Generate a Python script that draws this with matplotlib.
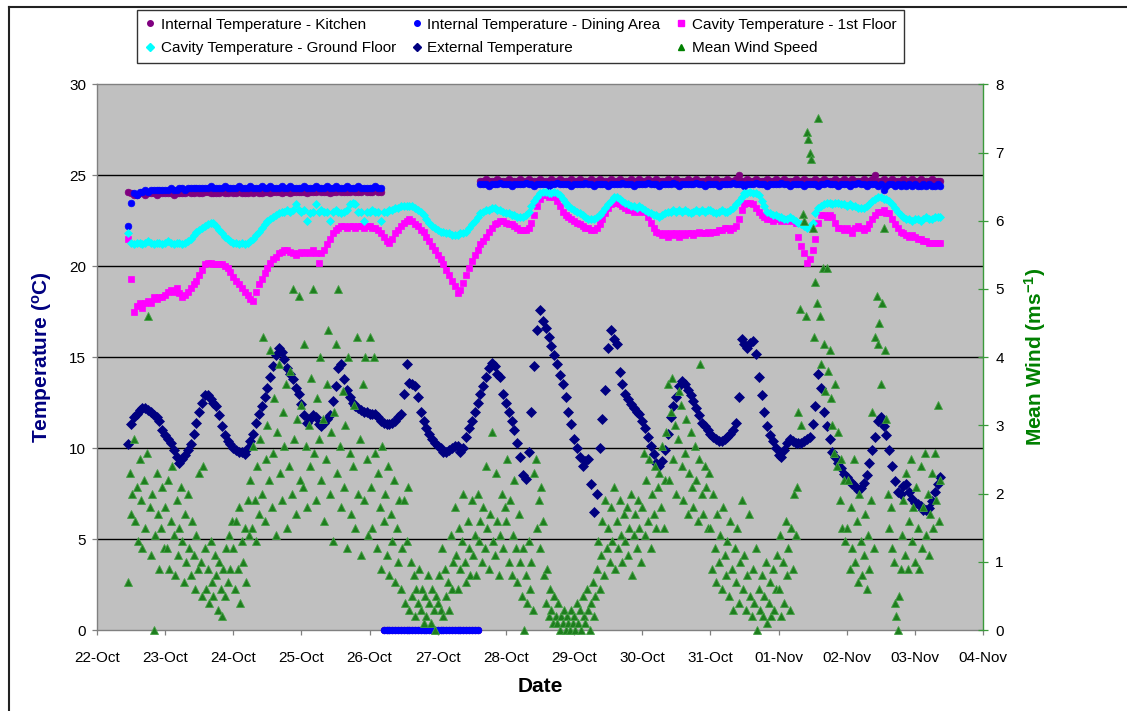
import matplotlib
matplotlib.use("Agg")
import matplotlib.pyplot as plt
import matplotlib.dates as mdates
from matplotlib.lines import Line2D
import pandas as pd

plt.rcParams['font.family'] = ['Liberation Sans', 'DejaVu Sans']
plt.rcParams['mathtext.fontset'] = 'custom'
plt.rcParams['mathtext.rm'] = 'Liberation Sans:bold'
plt.rcParams['mathtext.default'] = 'rm'

# ---------------- data (hourly temperatures, 22-Oct 11:00 -> 03-Nov 09:00) ----------------
START = '2008-10-22 11:00'
X_MIN, X_MAX = '2008-10-22', '2008-11-04'

kitchen = [
    24.1, 24.0, 23.9, 23.9, 24.0, 24.0, 23.9, 24.0, 24.0, 24.0, 23.9, 24.0, 24.0,
    24.0, 24.0, 24.0, 23.9, 24.0, 24.0, 24.0, 24.0, 24.1, 24.0, 24.0, 24.1,
    24.0, 24.0, 24.1, 24.1, 24.0, 24.0, 24.0, 24.0, 24.1, 24.0, 24.0, 24.1,
    24.0, 24.0, 24.1, 24.0, 24.0, 24.0, 24.1, 24.0, 24.1, 24.0, 24.0, 24.1,
    24.1, 24.0, 24.1, 24.1, 24.1, 24.0, 24.1, 24.1, 24.0, 24.1, 24.1, 24.1,
    24.1, 24.1, 24.0, 24.1, 24.1, 24.1, 24.2, 24.1, 24.1, 24.1, 24.0, 24.1,
    24.1, 24.2, 24.1, 24.1, 24.1, 24.1, 24.2, 24.1, 24.1, 24.1, 24.2, 24.1,
    24.1, 24.1, 24.2, 24.1, 24.1, 0, 0, 0, 0, 0, 0, 0,
    0, 0, 0, 0, 0, 0, 0, 0, 0, 0, 0, 0,
    0, 0, 0, 0, 0, 0, 0, 0, 0, 0, 0, 0,
    0, 0, 0, 24.7, 24.7, 24.8, 24.7, 24.7, 24.7, 24.8, 24.7, 24.7,
    24.7, 24.8, 24.7, 24.7, 24.7, 24.8, 24.7, 24.7, 24.8, 24.7, 24.7, 24.7,
    24.8, 24.7, 24.7, 24.7, 24.8, 24.7, 24.7, 24.8, 24.7, 24.7, 24.7, 24.8,
    24.7, 24.7, 24.8, 24.7, 24.7, 24.7, 24.8, 24.7, 24.7, 24.8, 24.7, 24.7,
    24.7, 24.8, 24.7, 24.7, 24.8, 24.7, 24.7, 24.7, 24.8, 24.7, 24.7, 24.8,
    24.7, 24.7, 24.8, 24.7, 24.7, 24.8, 24.7, 24.7, 24.7, 24.8, 24.7, 24.7,
    24.8, 24.7, 24.7, 24.7, 24.8, 24.7, 24.7, 24.8, 24.7, 24.7, 24.7, 24.8,
    24.7, 24.7, 24.8, 24.7, 24.7, 24.7, 24.8, 24.7, 24.7, 24.8, 25.0, 24.7,
    24.7, 24.8, 24.7, 24.7, 24.8, 24.7, 24.7, 24.7, 24.8, 24.7, 24.7, 24.8,
    24.7, 24.7, 24.8, 24.7, 24.7, 24.7, 24.8, 24.7, 24.7, 24.8, 24.7, 24.7,
    24.7, 24.8, 24.7, 24.7, 24.8, 24.7, 24.7, 24.7, 24.8, 24.7, 24.7, 24.8,
    24.7, 24.7, 24.8, 24.7, 24.7, 24.7, 24.8, 24.7, 24.7, 24.8, 25.0, 24.7,
    24.7, 24.8, 24.7, 24.7, 24.8, 24.7, 24.7, 24.7, 24.8, 24.7, 24.7, 24.8,
    24.7, 24.7, 24.8, 24.7, 24.7, 24.7, 24.8, 24.7, 24.7, 24.7,
]

dining = [
    22.2, 23.5, 24.0, 23.9, 24.1, 24.1, 24.2, 24.1, 24.2, 24.2, 24.2, 24.2, 24.2,
    24.2, 24.2, 24.3, 24.2, 24.2, 24.3, 24.3, 24.2, 24.3, 24.3, 24.3, 24.3,
    24.3, 24.3, 24.3, 24.3, 24.4, 24.3, 24.3, 24.3, 24.3, 24.4, 24.3, 24.3,
    24.3, 24.3, 24.4, 24.3, 24.3, 24.3, 24.4, 24.3, 24.3, 24.3, 24.4, 24.3,
    24.3, 24.4, 24.3, 24.3, 24.3, 24.4, 24.3, 24.3, 24.4, 24.3, 24.3, 24.3,
    24.3, 24.4, 24.3, 24.3, 24.3, 24.4, 24.3, 24.3, 24.3, 24.4, 24.3, 24.3,
    24.4, 24.3, 24.3, 24.3, 24.4, 24.3, 24.3, 24.3, 24.4, 24.3, 24.3, 24.3,
    24.3, 24.3, 24.4, 24.3, 24.3, 0, 0, 0, 0, 0, 0, 0,
    0, 0, 0, 0, 0, 0, 0, 0, 0, 0, 0, 0,
    0, 0, 0, 0, 0, 0, 0, 0, 0, 0, 0, 0,
    0, 0, 0, 24.5, 24.5, 24.5, 24.4, 24.5, 24.5, 24.5, 24.6, 24.5,
    24.5, 24.5, 24.4, 24.5, 24.5, 24.5, 24.5, 24.6, 24.5, 24.5, 24.4, 24.5,
    24.5, 24.5, 24.5, 24.4, 24.5, 24.5, 24.6, 24.5, 24.5, 24.5, 24.5, 24.4,
    24.5, 24.5, 24.5, 24.5, 24.6, 24.5, 24.5, 24.4, 24.5, 24.5, 24.5, 24.5,
    24.4, 24.5, 24.5, 24.5, 24.5, 24.6, 24.5, 24.5, 24.5, 24.4, 24.5, 24.5,
    24.5, 24.5, 24.6, 24.5, 24.5, 24.5, 24.4, 24.5, 24.5, 24.5, 24.5, 24.6,
    24.5, 24.4, 24.5, 24.5, 24.5, 24.5, 24.5, 24.6, 24.5, 24.5, 24.4, 24.5,
    24.5, 24.5, 24.5, 24.4, 24.5, 24.5, 24.5, 24.5, 24.6, 24.5, 24.5, 24.5,
    24.4, 24.5, 24.5, 24.5, 24.6, 24.5, 24.5, 24.5, 24.4, 24.5, 24.5, 24.5,
    24.5, 24.6, 24.5, 24.5, 24.4, 24.5, 24.5, 24.5, 24.5, 24.4, 24.5, 24.5,
    24.5, 24.5, 24.4, 24.5, 24.5, 24.6, 24.5, 24.5, 24.5, 24.4, 24.5, 24.5,
    24.5, 24.4, 24.5, 24.5, 24.6, 24.5, 24.5, 24.4, 24.5, 24.5, 24.5, 24.4,
    24.5, 24.2, 24.4, 24.5, 24.5, 24.4, 24.5, 24.4, 24.5, 24.4, 24.5, 24.4,
    24.5, 24.4, 24.4, 24.5, 24.4, 24.5, 24.4, 24.4, 24.5, 24.4,
]

cavity_1st = [
    21.5, 19.3, 17.5, 17.8, 18.0, 17.7, 18.0, 18.1, 18.0, 18.3, 18.2, 18.3, 18.3,
    18.4, 18.6, 18.7, 18.6, 18.8, 18.5, 18.3, 18.4, 18.6, 18.8, 19.0, 19.2,
    19.5, 19.8, 20.1, 20.2, 20.2, 20.1, 20.1, 20.1, 20.1, 20.0, 19.9, 19.7,
    19.4, 19.2, 19.0, 18.8, 18.6, 18.4, 18.2, 18.1, 18.6, 19.0, 19.3, 19.6,
    19.9, 20.2, 20.4, 20.5, 20.7, 20.8, 20.9, 20.9, 20.8, 20.7, 20.6, 20.7,
    20.8, 20.7, 20.8, 20.7, 20.9, 20.7, 20.2, 20.7, 20.9, 21.2, 21.5, 21.8,
    22.0, 22.1, 22.2, 22.2, 22.1, 22.2, 22.2, 22.1, 22.2, 22.2, 22.1, 22.2,
    22.2, 22.1, 22.1, 22.0, 21.8, 21.6, 21.4, 21.3, 21.5, 21.8, 22.0, 22.2,
    22.4, 22.5, 22.6, 22.5, 22.3, 22.2, 22.0, 21.9, 21.6, 21.4, 21.1, 20.9,
    20.6, 20.4, 20.1, 19.8, 19.5, 19.2, 18.9, 18.5, 18.7, 19.1, 19.5, 19.9,
    20.3, 20.6, 20.9, 21.2, 21.4, 21.6, 21.9, 22.1, 22.3, 22.4, 22.5, 22.5,
    22.4, 22.3, 22.3, 22.2, 22.1, 22.0, 22.0, 22.0, 22.1, 22.4, 22.8, 23.3,
    23.7, 23.9, 23.9, 23.8, 23.9, 23.8, 23.6, 23.3, 23.0, 22.8, 22.7, 22.6,
    22.5, 22.4, 22.3, 22.2, 22.1, 22.1, 22.0, 22.0, 22.1, 22.3, 22.6, 22.9,
    23.2, 23.4, 23.5, 23.5, 23.4, 23.3, 23.2, 23.1, 23.1, 23.0, 23.1, 23.0,
    23.1, 23.0, 22.7, 22.4, 22.1, 21.9, 21.8, 21.7, 21.8, 21.6, 21.8, 21.7,
    21.8, 21.6, 21.8, 21.7, 21.8, 21.8, 21.7, 21.8, 21.9, 21.8, 21.8, 21.9,
    21.8, 21.9, 21.9, 22.0, 22.0, 22.1, 22.1, 22.0, 22.1, 22.2, 22.6, 23.1,
    23.4, 23.5, 23.5, 23.4, 23.2, 23.0, 22.8, 22.7, 22.6, 22.6, 22.5, 22.6,
    22.6, 22.5, 22.6, 22.5, 22.6, 22.5, 22.4, 21.6, 21.1, 20.7, 20.2, 20.4,
    20.9, 21.5, 22.4, 22.8, 22.8, 22.7, 22.8, 22.7, 22.4, 22.1, 22.1, 22.0,
    22.1, 22.0, 21.8, 22.1, 22.2, 22.1, 22.0, 22.1, 22.3, 22.6, 22.8, 23.0,
    23.0, 23.1, 22.9, 22.9, 22.6, 22.3, 22.1, 21.9, 21.8, 21.7, 21.6, 21.7,
    21.6, 21.5, 21.5, 21.4, 21.4, 21.3, 21.3, 21.3, 21.3, 21.3,
]

cavity_ground = [
    21.8, 21.3, 21.2, 21.3, 21.3, 21.2, 21.3, 21.4, 21.3, 21.2, 21.3, 21.3, 21.2,
    21.3, 21.4, 21.3, 21.2, 21.3, 21.3, 21.2, 21.3, 21.4, 21.5, 21.7, 21.9,
    22.0, 22.1, 22.2, 22.3, 22.4, 22.4, 22.2, 22.0, 21.8, 21.6, 21.5, 21.4,
    21.3, 21.3, 21.2, 21.3, 21.2, 21.3, 21.4, 21.5, 21.7, 21.9, 22.1, 22.3,
    22.5, 22.6, 22.7, 22.8, 22.9, 23.0, 23.0, 23.1, 23.0, 23.1, 23.4, 23.1,
    23.0, 23.1, 22.5, 22.9, 23.0, 23.4, 23.0, 23.1, 23.0, 23.0, 22.5, 23.0,
    23.1, 23.0, 22.9, 23.0, 23.1, 23.4, 23.5, 23.4, 23.0, 23.0, 22.5, 23.0,
    23.0, 23.1, 23.0, 23.0, 22.5, 23.0, 23.0, 23.1, 23.1, 23.2, 23.2, 23.3,
    23.3, 23.3, 23.3, 23.3, 23.2, 23.1, 23.0, 22.8, 22.6, 22.4, 22.2, 22.1,
    22.0, 21.9, 21.9, 21.8, 21.8, 21.7, 21.7, 21.7, 21.8, 21.8, 21.9, 22.1,
    22.3, 22.5, 22.7, 22.9, 23.0, 23.1, 23.1, 23.2, 23.2, 23.1, 23.1, 23.0,
    22.9, 22.9, 22.8, 22.8, 22.7, 22.7, 22.7, 22.8, 23.0, 23.3, 23.6, 23.8,
    24.0, 24.1, 24.1, 24.0, 24.0, 24.1, 24.0, 23.9, 23.7, 23.5, 23.3, 23.2,
    23.1, 23.0, 22.9, 22.8, 22.7, 22.6, 22.6, 22.6, 22.7, 22.8, 23.0, 23.2,
    23.4, 23.6, 23.8, 23.8, 23.7, 23.6, 23.5, 23.4, 23.3, 23.3, 23.2, 23.3,
    23.2, 23.1, 23.0, 22.9, 22.8, 22.8, 22.7, 22.8, 22.9, 23.0, 23.0, 23.1,
    23.0, 23.1, 23.0, 23.1, 23.0, 22.9, 23.0, 23.1, 23.0, 23.1, 23.0, 23.1,
    23.1, 23.0, 22.9, 23.0, 23.1, 23.0, 23.0, 23.1, 23.2, 23.4, 23.6, 23.8,
    24.0, 24.0, 24.1, 24.0, 24.0, 23.9, 23.6, 23.3, 23.0, 22.9, 22.8, 22.8,
    22.7, 22.7, 22.6, 22.6, 22.7, 22.6, 22.5, 22.4, 22.3, 22.2, 22.1, 22.2,
    22.4, 22.9, 23.2, 23.3, 23.4, 23.5, 23.5, 23.4, 23.5, 23.5, 23.4, 23.4,
    23.3, 23.4, 23.3, 23.3, 23.2, 23.2, 23.2, 23.3, 23.4, 23.6, 23.7, 23.8,
    23.8, 23.7, 23.7, 23.6, 23.4, 23.2, 23.0, 22.8, 22.7, 22.6, 22.6, 22.5,
    22.6, 22.6, 22.5, 22.6, 22.7, 22.6, 22.6, 22.7, 22.7, 22.7,
]

external = [
    10.2, 11.3, 11.7, 11.9, 12.1, 12.2, 12.2, 12.1, 12.0, 11.8, 11.7, 11.5, 11.0,
    10.7, 10.5, 10.3, 9.9, 9.5, 9.2, 9.4, 9.6, 9.9, 10.2, 10.8, 11.4,
    12.0, 12.5, 12.9, 12.9, 12.7, 12.5, 12.3, 11.8, 11.2, 10.7, 10.4, 10.2,
    10.0, 9.9, 9.8, 9.8, 9.7, 10.0, 10.4, 10.8, 11.4, 11.9, 12.3, 12.8,
    13.3, 13.9, 14.5, 15.1, 15.5, 15.3, 14.9, 14.4, 14.1, 13.8, 13.3, 13.0,
    12.4, 11.8, 11.4, 11.6, 11.8, 11.7, 11.3, 11.2, 11.4, 11.6, 11.8, 12.6,
    13.4, 14.4, 14.6, 13.8, 13.2, 12.8, 12.5, 12.3, 12.2, 12.1, 12.0, 12.0,
    11.9, 11.9, 11.9, 11.7, 11.5, 11.4, 11.3, 11.3, 11.4, 11.5, 11.7, 11.9,
    13.0, 14.6, 13.6, 13.5, 13.4, 12.8, 12.0, 11.5, 11.1, 10.8, 10.5, 10.3,
    10.1, 10.0, 9.8, 9.8, 9.9, 10.0, 10.1, 10.1, 9.8, 10.0, 10.6, 11.1,
    11.5, 12.0, 12.5, 13.0, 13.4, 13.9, 14.4, 14.7, 14.5, 14.1, 13.9, 13.0,
    12.5, 12.0, 11.5, 11.0, 10.3, 9.5, 8.5, 8.3, 9.8, 12.0, 14.5, 16.5,
    17.6, 17.0, 16.6, 16.1, 15.6, 15.1, 14.6, 14.0, 13.5, 12.8, 12.0, 11.3,
    10.5, 10.0, 9.5, 9.0, 9.3, 9.4, 8.0, 6.5, 7.5, 10.0, 11.6, 13.2,
    15.5, 16.5, 16.0, 15.7, 14.2, 13.5, 13.0, 12.7, 12.4, 12.2, 12.0, 11.9,
    11.5, 11.1, 10.6, 10.1, 9.7, 9.2, 9.0, 9.3, 9.9, 10.8, 11.7, 12.3,
    12.8, 13.4, 13.7, 13.5, 13.2, 12.9, 12.6, 12.2, 11.8, 11.4, 11.2, 11.0,
    10.8, 10.6, 10.5, 10.4, 10.4, 10.5, 10.6, 10.8, 11.0, 11.4, 12.8, 16.0,
    15.7, 15.5, 15.8, 15.9, 15.2, 13.9, 12.9, 12.0, 11.2, 10.7, 10.4, 10.0,
    9.6, 9.5, 9.9, 10.3, 10.5, 10.4, 10.3, 10.3, 10.3, 10.4, 10.5, 10.6,
    11.3, 12.3, 14.1, 13.3, 12.0, 11.2, 10.5, 9.8, 9.5, 9.2, 8.9, 8.6,
    8.4, 8.2, 8.0, 7.9, 7.7, 7.8, 8.1, 8.5, 9.2, 9.9, 10.6, 11.5,
    11.7, 11.2, 10.7, 9.9, 9.0, 8.2, 7.6, 7.5, 7.9, 8.0, 7.6, 7.2,
    7.0, 6.9, 6.8, 6.6, 6.6, 6.7, 7.1, 7.6, 8.0, 8.4,
]

# ---------------- half-hourly mean wind speed (m/s) ----------------
wind = [
    0.7, 2.3, 1.7, 2.0, 2.8, 1.6, 2.1, 1.3, 2.5, 1.9, 1.2, 2.2, 1.5, 2.6,
    4.6, 1.8, 1.1, 2.0, 0.0, 1.4, 2.3, 1.7, 0.9, 1.5, 2.1, 1.2,
    # 23-Oct
    1.8, 1.2, 2.2, 0.9, 1.6, 2.4, 1.4, 0.8, 1.9, 1.1, 1.5, 2.1,
    1.3, 0.7, 1.7, 1.0, 2.0, 1.2, 0.8, 1.6, 1.1, 0.6, 1.4, 0.9,
    2.3, 1.0, 0.5, 2.4, 1.2, 0.6, 0.9, 0.4, 1.3, 0.7, 0.5, 1.1,
    0.8, 0.3, 1.0, 0.6, 0.2, 0.9, 0.5, 1.2, 0.7, 1.4, 0.9, 1.6,
    # 24-Oct
    1.2, 0.6, 1.6, 0.9, 1.8, 0.4, 1.3, 1.0, 1.5, 0.7, 1.9, 1.4,
    2.2, 1.5, 2.7, 1.9, 1.3, 2.4, 1.7, 2.8, 2.0, 4.3, 1.6, 2.5,
    3.0, 2.2, 4.1, 1.8, 2.6, 3.4, 1.4, 2.9, 3.9, 2.3, 1.9, 3.2,
    2.7, 3.6, 1.5, 2.4, 3.8, 2.0, 5.0, 2.8, 1.7, 3.1, 4.9, 2.2,
    # 25-Oct
    3.3, 2.1, 4.2, 2.7, 1.8, 3.0, 2.4, 3.7, 5.0, 2.6, 1.9, 3.4,
    2.8, 4.0, 2.2, 3.1, 1.6, 2.5, 3.6, 4.4, 2.0, 2.9, 1.3, 3.2,
    4.2, 2.3, 5.0, 2.7, 1.8, 3.5, 2.1, 3.0, 1.2, 4.0, 2.6, 1.7,
    2.4, 3.3, 1.5, 4.3, 2.0, 2.8, 1.1, 3.6, 1.9, 4.0, 2.5, 1.4,
    # 26-Oct
    4.3, 2.1, 1.5, 4.0, 2.6, 1.2, 2.3, 1.8, 0.9, 2.7, 1.6, 2.0,
    1.1, 2.4, 0.8, 1.7, 1.3, 2.2, 0.7, 1.5, 1.0, 1.9, 0.6, 1.2,
    1.9, 0.4, 1.3, 2.1, 0.3, 1.0, 0.5, 0.8, 0.2, 0.6, 0.4, 0.9,
    0.3, 0.6, 0.1, 0.5, 0.2, 0.8, 0.4, 0.1, 0.6, 0.3, 0.0, 0.5,
    # 27-Oct
    0.4, 0.8, 0.3, 1.2, 0.2, 0.9, 0.5, 0.7, 0.3, 1.4, 0.6, 1.0,
    1.8, 1.1, 0.6, 1.5, 0.9, 1.3, 2.0, 1.0, 0.7, 1.6, 1.2, 0.8,
    1.9, 1.1, 1.4, 0.8, 2.0, 1.3, 1.6, 1.0, 1.8, 1.2, 2.4, 1.5,
    0.9, 1.7, 2.9, 1.3, 1.1, 2.3, 1.6, 0.8, 1.4, 2.0, 1.2, 1.8,
    # 28-Oct
    1.6, 2.5, 1.0, 1.9, 0.8, 1.4, 2.2, 1.2, 0.7, 1.7, 1.0, 0.5,
    1.2, 0.0, 0.8, 0.4, 1.3, 0.6, 1.0, 0.3, 2.3, 2.5, 1.5, 1.9,
    1.2, 2.1, 1.6, 0.8, 0.4, 0.9, 0.2, 0.6, 0.3, 0.1, 0.5, 0.2,
    0.1, 0.4, 0.0, 0.2, 0.1, 0.3, 0.0, 0.2, 0.1, 0.0, 0.3, 0.1,
    # 29-Oct
    0.2, 0.0, 0.4, 0.1, 0.3, 0.0, 0.5, 0.2, 0.1, 0.6, 0.3, 0.0,
    0.4, 0.7, 0.2, 0.5, 0.9, 1.3, 0.6, 1.1, 1.6, 0.8, 1.9, 1.2,
    1.5, 1.0, 1.8, 1.3, 2.1, 0.9, 1.6, 1.2, 1.9, 1.4, 1.0, 1.7,
    1.3, 1.8, 1.1, 1.5, 2.0, 0.8, 1.4, 1.7, 1.2, 1.9, 1.5, 1.0,
    # 30-Oct
    1.8, 2.6, 1.4, 2.2, 1.6, 2.5, 1.2, 2.0, 1.7, 2.4, 1.5, 2.1,
    2.3, 1.8, 2.7, 1.5, 2.2, 2.9, 3.6, 2.2, 3.2, 3.7, 2.5, 3.0,
    2.0, 2.8, 3.5, 3.3, 2.4, 1.9, 2.6, 3.1, 1.7, 2.3, 2.9, 2.1,
    1.8, 2.7, 2.2, 1.6, 2.5, 3.9, 2.0, 1.7, 2.4, 2.1, 1.5, 2.3,
    # 31-Oct
    1.5, 0.9, 2.0, 1.2, 0.7, 1.7, 1.0, 1.4, 0.6, 1.8, 1.1, 0.8,
    1.3, 0.5, 1.6, 0.9, 0.3, 1.2, 0.7, 1.5, 0.4, 1.0, 1.9, 0.6,
    1.1, 0.3, 0.8, 1.7, 0.5, 0.2, 0.9, 0.4, 1.2, 0.0, 0.6, 0.3,
    0.8, 0.2, 0.5, 1.0, 0.1, 0.4, 0.7, 0.2, 0.9, 0.3, 0.6, 1.1,
    # 01-Nov
    0.6, 1.4, 0.2, 1.0, 0.4, 1.6, 0.8, 1.2, 0.3, 1.5, 0.9, 2.0,
    1.4, 2.1, 3.2, 4.7, 3.0, 6.1, 6.0, 4.6, 7.3, 7.2, 7.0, 6.9,
    5.9, 4.3, 5.1, 4.8, 7.5, 4.6, 3.9, 5.3, 4.2, 3.5, 5.3, 3.8,
    4.1, 3.4, 3.0, 2.6, 3.6, 2.4, 2.9, 1.9, 2.5, 1.5, 2.2, 1.3,
    # 02-Nov
    1.5, 2.2, 0.9, 1.8, 1.2, 2.5, 1.0, 1.6, 0.7, 2.0, 1.3, 0.8,
    1.1, 1.7, 0.6, 1.4, 0.9, 1.9, 3.2, 1.2, 4.3, 4.9, 4.2, 4.5,
    3.6, 4.8, 5.9, 4.1, 3.1, 2.0, 1.5, 1.8, 1.2, 1.0, 0.4, 0.2,
    0.0, 0.5, 0.9, 1.4, 1.9, 1.1, 2.3, 0.9, 1.6, 2.5, 1.3, 1.8,
    # 03-Nov
    1.0, 2.1, 1.5, 0.9, 2.4, 1.2, 1.8, 2.6, 1.4, 2.0, 1.1, 1.7,
    2.3, 1.5, 2.6, 1.9, 3.3, 1.6, 2.2,
]

labels = ['Internal Temperature - Kitchen', 'Internal Temperature - Dining Area',
          'Cavity Temperature - 1st Floor', 'Cavity Temperature - Ground Floor',
          'External Temperature', 'Mean Wind Speed']
colors = ['#800080', '#0000FF', '#FF00FF', '#00FFFF', '#000080', '#008000']
temp_ticks = [0, 5, 10, 15, 20, 25, 30]
wind_ticks = [0, 1, 2, 3, 4, 5, 6, 7, 8]


def times(series, freq):
    return pd.date_range(START, periods=len(series), freq=freq)


# ---------------- figure ----------------
W, H = 1127, 711
fig = plt.figure(figsize=(W / 100, H / 100), dpi=100)
ax = fig.add_axes([97 / W, 1 - 630 / H, (983 - 97) / W, (630 - 84.3) / H])
ax.set_facecolor('#C0C0C0')

styles = [('o', 4.8), ('o', 4.8), ('s', 4.8), ('D', 4.5), ('D', 4.6)]
series = [kitchen, dining, cavity_1st, cavity_ground, external]
for vals, (mk, ms), col in zip(series, styles, colors[:5]):
    ax.plot(times(vals, 'h'), vals, ls='none', marker=mk, ms=ms, color=col,
            mec=col, mew=0.5, clip_on=False, zorder=3)

ax.set_ylim(0, 30)
ax.set_yticks(temp_ticks)
ax.set_xlim(pd.Timestamp(X_MIN), pd.Timestamp(X_MAX))
ax.xaxis.set_major_locator(mdates.DayLocator())
ax.xaxis.set_major_formatter(mdates.DateFormatter('%d-%b'))
ax.yaxis.grid(True, color='black', lw=1.0, zorder=1)
gl = ax.get_ygridlines()
gl[0].set_visible(False)
gl[-1].set_visible(False)
ax.set_axisbelow(True)
for s in ['left', 'bottom', 'top']:
    ax.spines[s].set_color('#808080')
    ax.spines[s].set_linewidth(1.0)
ax.spines['right'].set_visible(False)
ax.tick_params(axis='y', direction='out', length=3.8, width=0.9, color='#808080',
               pad=4, labelsize=11)
ax.tick_params(axis='x', direction='out', length=3.8, width=0.9, color='#808080',
               pad=11, labelsize=11)

ax2 = ax.twinx()
ax2.plot(times(wind, '30min'), wind, ls='none', marker='^', ms=5.4,
         mfc='#1E7E1E', mec='#45A045', mew=0.6, clip_on=False, zorder=4)
ax2.set_ylim(0, 8)
ax2.set_yticks(wind_ticks)
for s in ['left', 'bottom', 'top']:
    ax2.spines[s].set_visible(False)
ax2.spines['right'].set_color('#3A9A3A')
ax2.spines['right'].set_linewidth(1.0)
ax2.tick_params(axis='y', direction='inout', length=7.5, width=0.9, color='#3A9A3A',
                pad=5, labelsize=11)

# axis titles
fig.text(42 / W, 1 - 357 / H, 'Temperature ($^{o}$C)', rotation=90, ha='center',
         va='center', fontsize=15, fontweight='bold', color='#000080')
fig.text(1035 / W, 1 - 357 / H, 'Mean Wind (ms$^{-1}$)', rotation=90, ha='center',
         va='center', fontsize=15, fontweight='bold', color='#008000')
fig.text(540 / W, 1 - 686 / H, 'Date', ha='center', va='center', fontsize=15,
         fontweight='bold', color='black')

# legend (column-major order for 3 columns)
mk = ['o', 'o', 's', 'D', 'D', '^']
handles = [Line2D([], [], ls='none', marker=mk[i], ms=4 if mk[i] != 's' else 3.8,
                  color=colors[i], mec=colors[i]) for i in range(6)]
order = [0, 3, 1, 4, 2, 5]
leg = fig.legend([handles[i] for i in order], [labels[i] for i in order], ncol=3,
                 loc='upper left', bbox_to_anchor=(137 / W, 1 - 10 / H),
                 fontsize=11, frameon=True, fancybox=False, shadow=False,
                 handlelength=0.7, handletextpad=0.35, columnspacing=1.0,
                 labelspacing=0.62, borderpad=0.5, borderaxespad=0)
leg.get_frame().set_edgecolor('black')
leg.get_frame().set_linewidth(1.0)

# chart-area border (top and left visible)
fig.add_artist(Line2D([9 / W, 1], [1 - 7 / H, 1 - 7 / H], transform=fig.transFigure,
                      color='#222222', lw=1.5))
fig.add_artist(Line2D([9 / W, 9 / W], [1 - 7 / H, 0], transform=fig.transFigure,
                      color='#222222', lw=1.5))

fig.savefig('out.png', dpi=100)
